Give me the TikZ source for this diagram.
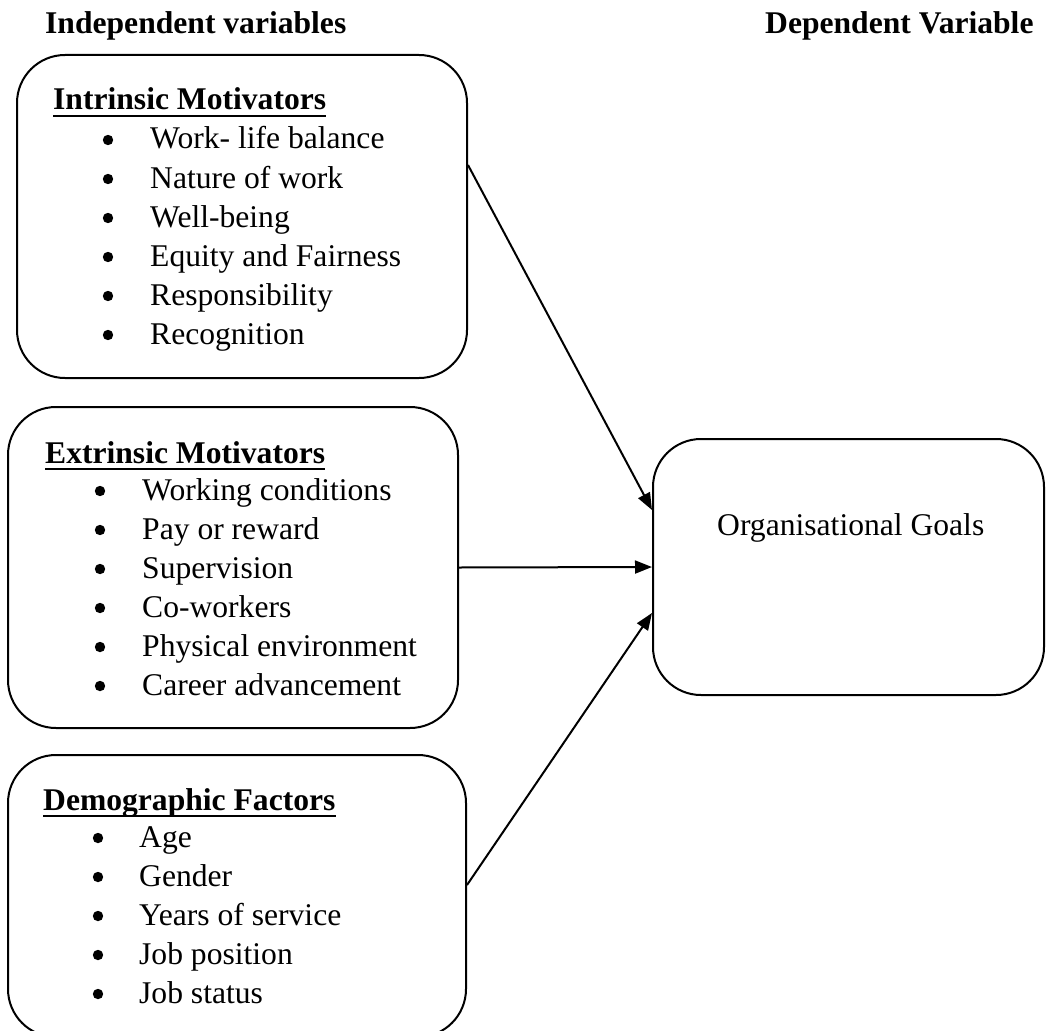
\documentclass[tikz,border=0pt]{standalone}
\usepackage{fontspec}
\setmainfont{Liberation Serif}
\usetikzlibrary{arrows.meta}
\tikzset{
  txt/.style={anchor=base west, inner sep=0pt, font=\fontsize{31.6}{39}\selectfont},
  hd/.style={anchor=base west, inner sep=0pt, font=\fontsize{31.6}{39}\selectfont\bfseries},
  box/.style={draw, line width=2pt, rounded corners=48pt, inner sep=0pt},
  arr/.style={line width=2pt, -{Triangle[length=17pt,width=13pt]}},
  uline/.style={line width=2.6pt},
  bul/.style={fill=black}
}
\begin{document}
\begin{tikzpicture}[x=1pt,y=-1pt]
\useasboundingbox (0,0) rectangle (1046,1030);
\clip (0,0) rectangle (1046,1030);
% headings
\node[hd] (indep) at (45,34) {Independent variables};
\node[hd] (dep) at (765,34) {Dependent Variable};
% boxes
\node[box, minimum width=450pt, minimum height=323pt] (b1) at (242,216.5) {};
\node[box, minimum width=450pt, minimum height=321pt] (b2) at (233,567.5) {};
\node[box, minimum width=458pt, minimum height=282pt] (b3) at (237,896) {};
\node[box, minimum width=391pt, minimum height=256pt] (b4) at (848.5,567) {};
% box 1
\node[hd] (h1) at (53,110) {Intrinsic Motivators};
\draw[uline] ([yshift=-6pt]h1.base west) -- ([yshift=-6pt]h1.base east);
\foreach \t [count=\i from 0] in {Work- life balance, Nature of work, Well-being, Equity and Fairness, Responsibility, Recognition}{
  \node[txt] (a\i) at (150,149+39*\i) {\t};
  \fill[bul] (108,140+39*\i) circle (5.2);
}
% box 2
\node[hd] (h2) at (45,463) {Extrinsic Motivators};
\draw[uline] ([yshift=-6pt]h2.base west) -- ([yshift=-6pt]h2.base east);
\foreach \t [count=\i from 0] in {Working conditions, Pay or reward, Supervision, Co-workers, Physical environment, Career advancement}{
  \node[txt] (e\i) at (142,500+39*\i) {\t};
  \fill[bul] (100,491+39*\i) circle (5.2);
}
% box 3
\node[hd] (h3) at (43,810) {Demographic Factors};
\draw[uline] ([yshift=-6pt]h3.base west) -- ([yshift=-6pt]h3.base east);
\foreach \t [count=\i from 0] in {Age, Gender, Years of service, Job position, Job status}{
  \node[txt] (d\i) at (139,847+39*\i) {\t};
  \fill[bul] (98,838+39*\i) circle (5.2);
}
% box 4
\node[txt] (og) at (717,535) {Organisational Goals};
% arrows
\draw[arr] ([yshift=51.5pt]b1.east) -- ([yshift=57pt]b4.west);
\draw[arr] (b2.east) -- (b4.west);
\draw[arr] ([yshift=11pt]b3.east) -- ([yshift=-46pt]b4.west);
\end{tikzpicture}
\end{document}
